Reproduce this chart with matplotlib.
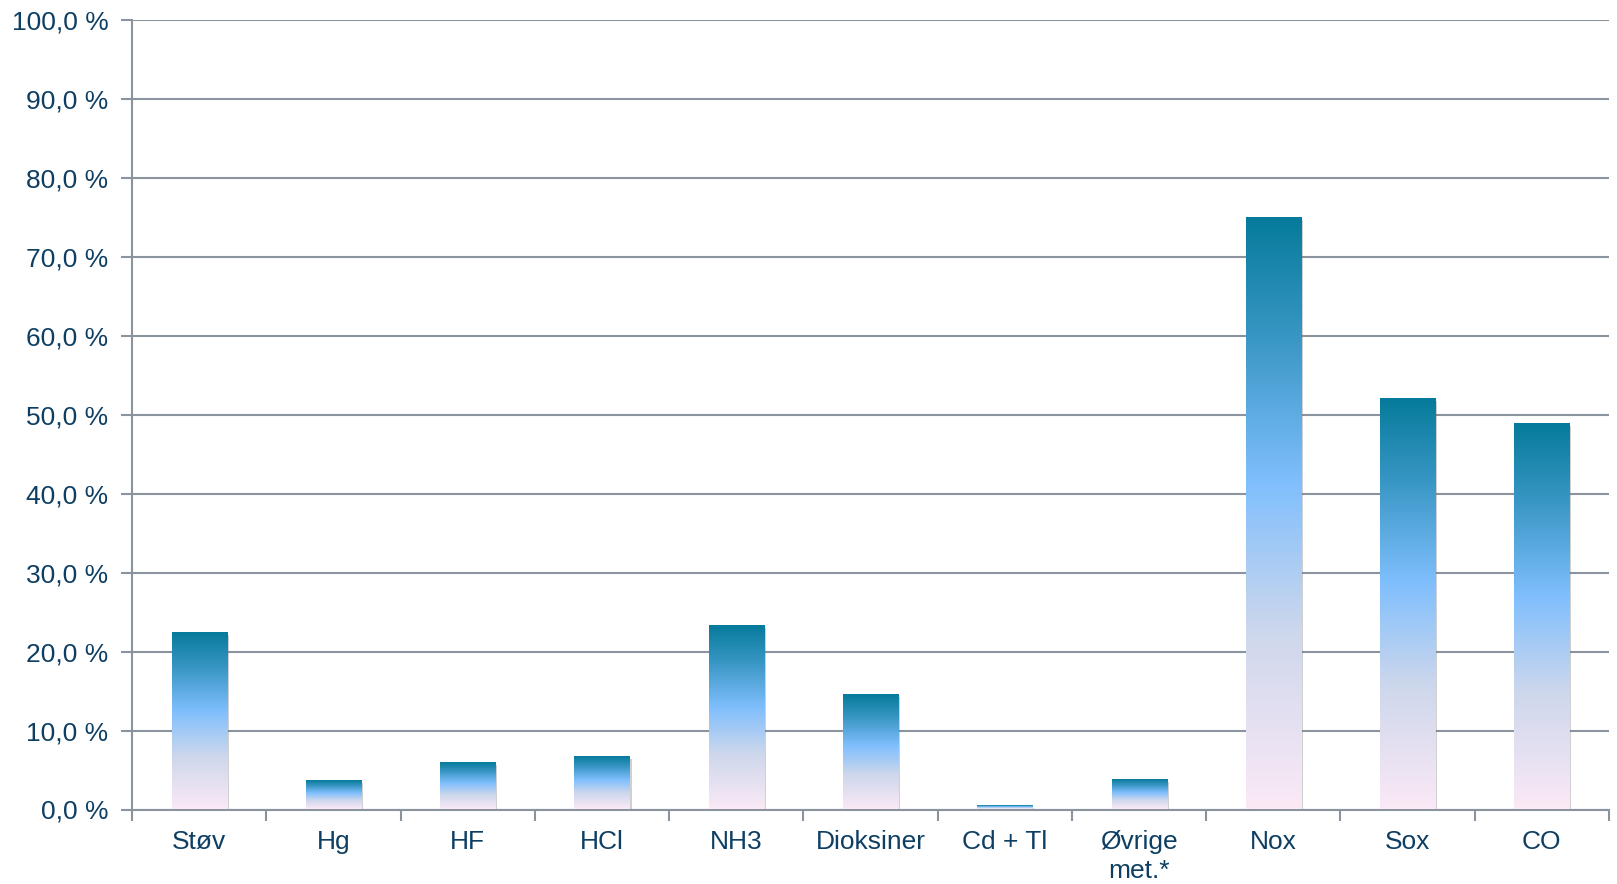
import numpy as np
import matplotlib.pyplot as plt
from matplotlib.colors import LinearSegmentedColormap
from matplotlib.ticker import FuncFormatter, FixedLocator
import matplotlib.patheffects as pe

categories = ['Støv', 'Hg', 'HF', 'HCl', 'NH3', 'Dioksiner', 'Cd + Tl',
              'Øvrige\nmet.*', 'Nox', 'Sox', 'CO']
values = [22.4, 3.6, 5.9, 6.7, 23.3, 14.5, 0.5, 3.8, 75.0, 52.0, 48.9]

text_color = '#0e3f63'
grid_color = '#8b939e'

plt.rcParams['font.family'] = ['Liberation Sans', 'DejaVu Sans']

# vertical gradient used inside every bar (bottom -> top)
grad = LinearSegmentedColormap.from_list('bar_grad', [
    (0.0, '#fbe9f6'),
    (0.3, '#cdd7ec'),
    (0.55, '#80bffd'),
    (0.8, '#3896c4'),
    (1.0, '#067b9b'),
])

fig = plt.figure(figsize=(16.17, 8.84), dpi=100)
ax = fig.add_axes([132 / 1617, 1 - 809.5 / 884, (1609 - 132) / 1617, (809.5 - 20.5) / 884])

x = np.arange(len(categories))
width = 0.41
bars = ax.bar(x, values, width=width, color='none', zorder=3)

g = np.linspace(0, 1, 256).reshape(-1, 1)
for b in bars:
    x0, y0 = b.get_x(), b.get_y()
    w, h = b.get_width(), b.get_height()
    # soft shadow behind the bar
    sh = plt.Rectangle((x0, y0), w, h, facecolor='white', edgecolor='none', zorder=2.5)
    sh.set_path_effects([pe.SimplePatchShadow(offset=(1.5, -1.5), shadow_rgbFace='#666666', alpha=0.3),
                         pe.Normal()])
    ax.add_patch(sh)
    ax.imshow(g, cmap=grad, origin='lower', aspect='auto',
              extent=(x0, x0 + w, y0, y0 + h), zorder=3, interpolation='bilinear')

ax.set_xlim(-0.5, len(categories) - 0.5)
ax.set_ylim(0, 100)

ax.set_yticks(np.arange(0, 101, 10))
ax.yaxis.set_major_formatter(FuncFormatter(lambda v, p: f'{v:.1f} %'.replace('.', ',')))
ax.grid(axis='y', color=grid_color, linewidth=1.5, zorder=1)
ax.set_axisbelow(True)

ax.set_xticks(x)
ax.set_xticklabels(categories, fontsize=19, color=text_color, linespacing=1.25)
ax.xaxis.set_minor_locator(FixedLocator(np.arange(-0.5, len(categories), 1.0)))
ax.tick_params(axis='x', which='major', length=0, pad=15)
ax.tick_params(axis='x', which='minor', length=8, width=1.5, color=grid_color)
ax.tick_params(axis='y', length=8, width=1.5, color=grid_color, labelsize=19,
               labelcolor=text_color, pad=9)

for s in ['top', 'right']:
    ax.spines[s].set_visible(False)
for s in ['left', 'bottom']:
    ax.spines[s].set_color(grid_color)
    ax.spines[s].set_linewidth(1.5)

fig.savefig('out.png', dpi=100)
